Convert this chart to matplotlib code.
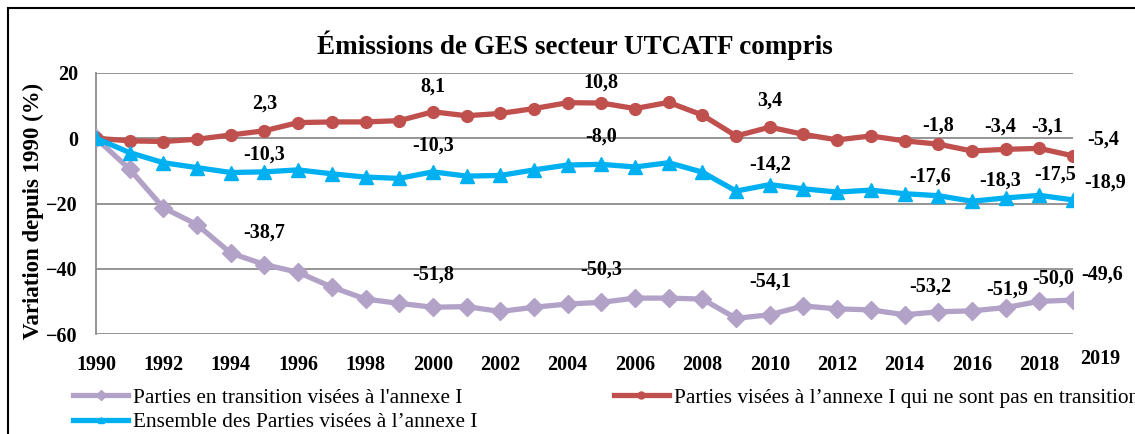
import numpy as np
import matplotlib
matplotlib.use('Agg')
import matplotlib.pyplot as plt
from matplotlib.patches import Rectangle

plt.rcParams['font.family'] = ['Liberation Serif', 'DejaVu Serif']

years = np.arange(1990, 2020)

# Parties en transition visées à l'annexe I
transition = [0.0, -9.5, -21.3, -26.5, -35.2, -38.7, -41.1, -45.6, -49.3, -50.6,
              -51.8, -51.6, -53.1, -51.8, -50.8, -50.3, -49.0, -49.0, -49.3, -55.2,
              -54.1, -51.4, -52.3, -52.6, -54.1, -53.2, -52.9, -51.9, -50.0, -49.6]
# Parties visées à l'annexe I qui ne sont pas en transition
non_transition = [0.0, -0.8, -1.0, -0.3, 1.0, 2.3, 4.8, 5.0, 5.0, 5.4,
                  8.1, 6.9, 7.6, 9.1, 10.9, 10.8, 9.1, 11.0, 7.1, 0.7,
                  3.4, 1.2, -0.5, 0.7, -0.8, -1.8, -3.9, -3.4, -3.1, -5.4]
# Ensemble des Parties visées à l'annexe I
ensemble = [0.0, -4.4, -7.5, -9.0, -10.5, -10.3, -9.7, -10.9, -11.9, -12.3,
            -10.3, -11.6, -11.4, -9.7, -8.2, -8.0, -8.8, -7.5, -10.4, -16.2,
            -14.2, -15.5, -16.5, -15.9, -17.0, -17.6, -19.3, -18.3, -17.5, -18.9]

label_years = [1995, 2000, 2005, 2010, 2015, 2017, 2018, 2019]
# label offsets in pixels (dx, dy)
off_transition = [(0, 32), (0, 33), (0, 33), (0, 33), (-8, 25), (2, 18), (14, 23), (29, 25)]
off_non = [(0, 27), (0, 25), (0, 20), (0, 27), (0, 19), (-5, 23), (8, 22), (30, 16)]
off_ens = [(0, 17), (0, 26), (0, 28), (0, 20), (-8, 19), (-5, 17), (16, 21), (32, 17)]

c_purple = '#B3A2C7'
c_red = '#C0504D'
c_blue = '#00B0F0'

fig = plt.figure(figsize=(11.35, 4.34), dpi=100)
ax = fig.add_axes([96 / 1135, 1 - 334 / 434, (1073 - 96) / 1135, (334 - 73) / 434])

l1, = ax.plot(years, transition, color=c_purple, lw=3.8, marker='D', ms=9, zorder=3)
l2, = ax.plot(years, non_transition, color=c_red, lw=3.8, marker='o', ms=8.5, zorder=4)
l3, = ax.plot(years, ensemble, color=c_blue, lw=3.8, marker='^', ms=10, zorder=5)

for series, offs in [(transition, off_transition), (non_transition, off_non), (ensemble, off_ens)]:
    for yr, (dx, dy) in zip(label_years, offs):
        v = series[yr - 1990]
        txt = ('%.1f' % v).replace('.', ',')
        ax.annotate(txt, (yr, v), xytext=(dx, dy), textcoords='offset pixels',
                    ha='center', va='center', fontsize=14.5, fontweight='bold',
                    annotation_clip=False)

ax.set_xlim(1990, 2019)
ax.set_ylim(-60, 20)
ax.set_yticks([20, 0, -20, -40, -60])
ax.set_xticks(np.arange(1990, 2019, 2))
ax.tick_params(length=0, labelsize=14.5)
ax.tick_params(axis='x', pad=15)
ax.tick_params(axis='y', pad=13)
for lab in ax.get_xticklabels() + ax.get_yticklabels():
    lab.set_fontweight('bold')
ax.text(2019.8, -64.6, '2019', ha='center', va='top', fontsize=14.5, fontweight='bold')

ax.grid(axis='y', color='#8C8C8C', lw=1.3)
ax.set_axisbelow(True)
for s in ['top', 'right', 'bottom']:
    ax.spines[s].set_visible(False)
ax.spines['left'].set_color('#8C8C8C')
ax.spines['left'].set_linewidth(1.3)

ylab = ax.set_ylabel('Variation depuis 1990 (%)', fontsize=16.5, fontweight='bold', va='center')
ax.yaxis.set_label_coords(-63 / 977, 0.47)
fig.text(575 / 1135, 1 - 45 / 434, 'Émissions de GES secteur UTCATF compris',
         ha='center', va='center', fontsize=19.5, fontweight='bold')

leg = fig.legend([l1, l3, l2],
                 ["Parties en transition visées à l'annexe I",
                  'Ensemble des Parties visées à l’annexe I',
                  'Parties visées à l’annexe I qui ne sont pas en transition'],
                 ncol=2, loc='upper left', bbox_to_anchor=(73 / 1135, 1 - 388 / 434),
                 frameon=False, fontsize=15.3, handlelength=2.6, handletextpad=0.24,
                 columnspacing=6.4, labelspacing=0.22, borderaxespad=0, borderpad=0)
for h in leg.legend_handles:
    h.set_markersize(5)

fig.patches.append(Rectangle((8 / 1135, -0.5), 2, 1.5 - 8 / 434,
                             transform=fig.transFigure, fill=False, ec='black', lw=1.5))

fig.savefig('out.png', dpi=100)
